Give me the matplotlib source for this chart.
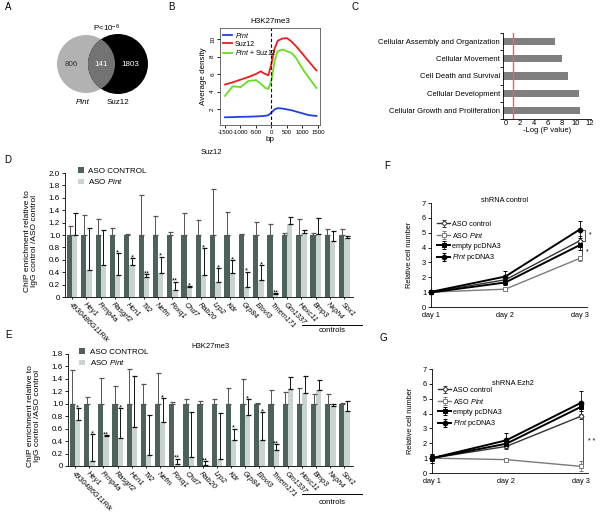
import matplotlib
matplotlib.use("Agg")
import matplotlib.pyplot as plt
from matplotlib.patches import Circle
import numpy as np

plt.rcParams['font.family'] = ['Liberation Sans', 'DejaVu Sans']
plt.rcParams['mathtext.fontset'] = 'custom'
plt.rcParams['mathtext.rm'] = 'Liberation Sans'
plt.rcParams['mathtext.it'] = 'Liberation Sans:italic'
plt.rcParams['axes.unicode_minus'] = False
plt.rcParams['font.size'] = 5
plt.rcParams['axes.linewidth'] = 0.6
plt.rcParams['xtick.major.width'] = 0.6
plt.rcParams['ytick.major.width'] = 0.6
plt.rcParams['xtick.major.size'] = 2
plt.rcParams['ytick.major.size'] = 2
plt.rcParams['xtick.major.pad'] = 1.5
plt.rcParams['ytick.major.pad'] = 1.5

W, H = 600, 513

# ---------------- data ----------------
# A: overlap of target genes
venn_counts = [806, 141, 1803]

# B: H3K27me3 profile around TSS
bp = [-1500, -1250, -1000, -750, -500, -350, -200, -100, 0, 100, 200,
      350, 500, 650, 800, 1000, 1200, 1450]
dens_pint = [1.05, 1.07, 1.1, 1.12, 1.15, 1.18, 1.22, 1.3, 1.6, 1.95, 2.1,
             2.05, 1.95, 1.85, 1.7, 1.5, 1.3, 1.2]
dens_suz12 = [4.8, 5.05, 5.35, 5.65, 6.0, 6.3, 6.0, 5.85, 7.2, 8.9, 9.8,
              10.05, 10.1, 9.7, 9.15, 8.3, 7.45, 6.4]
dens_both = [3.5, 4.6, 4.5, 5.2, 5.3, 4.9, 4.4, 4.3, 5.3, 7.5, 8.6,
             8.8, 8.6, 8.4, 7.8, 6.6, 5.6, 4.4]

# C: functional categories
go_terms = ['Cellular Growth and Proliferation', 'Cellular Development',
            'Cell Death and Survival', 'Cellular Movement',
            'Cellular Assembly and Organization']
go_logp = [11.0, 10.9, 9.3, 8.4, 7.4]
go_cutoff = 1.0

# D / E: ChIP enrichment
genes = ['4930486G11Rik', 'Hey1', 'Frmp4a', 'Rasgrf2', 'Hcn1', 'Tll2', 'Nefm',
         'Foxq1', 'Chd7', 'Rab20', 'Lrp2', 'Kdr', 'Grp84', 'Elovl3', 'Tmem171',
         'Gm1337', 'Hoxc11', 'Bmp3', 'Nxph4', 'Sox1']
suz_ctrl_top = [1.15, 1.32, 1.26, 1.12, 1.01, 1.65, 1.30, 1.05, 1.36, 1.25,
                1.75, 1.37, 1.01, 1.21, 1.18, 1.04, 1.26, 1.04, 1.10, 1.10]
suz_pint = [1.0, 0.43, 0.51, 0.36, 0.52, 0.33, 0.39, 0.12, 0.16, 0.36,
            0.24, 0.39, 0.16, 0.27, 0.05, 1.18, 1.03, 1.01, 0.90, 0.95]
suz_pint_top = [1.36, 1.12, 1.08, 0.71, 0.63, 0.37, 0.65, 0.25, 0.18, 0.79,
                0.46, 0.59, 0.41, 0.51, 0.06, 1.29, 1.08, 1.28, 1.07, 0.99]
suz_stars = ['', '', '', '*', '*', '**', '*', '**', '*', '*',
             '*', '*', '*', '*', '**', '', '', '', '', '']

h3_ctrl_top = [1.54, 1.11, 1.41, 1.28, 1.56, 1.32, 1.50, 1.03, 1.07, 1.04,
               1.08, 1.26, 1.40, 1.02, 1.22, 1.19, 1.25, 1.16, 1.16, 1.02]
h3_pint = [0.74, 0.08, 0.48, 0.45, 0.62, 0.18, 0.70, 0.03, 0.15, 0.02,
           0.12, 0.41, 0.82, 0.42, 0.25, 1.23, 1.18, 1.22, 0.97, 0.88]
h3_pint_top = [0.93, 0.51, 0.50, 0.93, 1.45, 0.82, 1.09, 0.12, 0.86, 0.08,
               0.85, 0.60, 1.08, 0.87, 0.35, 1.43, 1.44, 1.38, 0.99, 1.04]
h3_stars = ['*', '*', '**', '*', '', '', '*', '**', '', '**',
            '', '*', '*', '*', '**', '', '', '', '', '']

# F / G: proliferation
days = ['day 1', 'day 2', 'day 3']
f_aso_ctrl = [1.0, 1.83, 4.45]
f_aso_pint = [1.0, 1.2, 3.27]
f_empty = [0.98, 1.65, 4.16]
f_pint_pc = [1.02, 2.05, 5.21]
f_aso_ctrl_err = [0.1, 0.15, 0.3]
f_aso_pint_err = [0.1, 0.12, 0.15]
f_empty_err = [0.1, 0.15, 0.35]
f_pint_pc_err = [0.12, 0.4, 0.57]

g_aso_ctrl = [1.0, 1.79, 3.81]
g_aso_pint = [1.0, 0.9, 0.45]
g_empty = [1.0, 1.97, 4.44]
g_pint_pc = [1.0, 2.2, 4.71]
g_aso_ctrl_err = [0.2, 0.15, 0.15]
g_aso_pint_err = [0.3, 0.1, 0.33]
g_empty_err = [0.2, 0.2, 0.3]
g_pint_pc_err = [0.3, 0.5, 0.78]

DARK = '#4e625d'
LIGHT = '#c9d3cf'


def px_axes(fig, x0, y0, x1, y1):
    return fig.add_axes([x0 / W, 1 - y1 / H, (x1 - x0) / W, (y1 - y0) / H])


fig = plt.figure(figsize=(W / 100, H / 100), dpi=100)
ov = fig.add_axes([0, 0, 1, 1])
ov.set_xlim(0, W)
ov.set_ylim(H, 0)
ov.axis('off')

for lab, (lx, ly) in zip('ABCDEFG', [(8, 7), (171, 7), (355, 7), (8, 160),
                                      (8, 335), (387, 166), (383, 338)]):
    ov.text(lx, ly, lab, fontsize=7, ha='center', va='center')

# ---- A: venn ----
c_left = Circle((86, 64), 29, color='#b2b2b2', lw=0)
c_right = Circle((118, 64), 30, color='black', lw=0)
ov.add_patch(c_left)
ov.add_patch(c_right)
c_mid = Circle((86, 64), 29, color='#737373', lw=0)
ov.add_patch(c_mid)
c_mid.set_clip_path(c_right)
ov.text(71, 65, str(venn_counts[0]), ha='center', va='center', fontsize=5.8, color='#333333')
ov.text(101, 65, str(venn_counts[1]), ha='center', va='center', fontsize=5.8, color='white')
ov.text(130, 65, str(venn_counts[2]), ha='center', va='center', fontsize=5.8, color='white')
ov.text(107, 28, 'P<10$^{-6}$', ha='center', va='center', fontsize=5.8)
ov.text(83, 103, 'Pint', ha='center', va='center', fontsize=5.8, style='italic')
ov.text(118, 103, 'Suz12', ha='center', va='center', fontsize=5.8)

# ---- B: density profile ----
axb = px_axes(fig, 220, 28, 320, 125)
axb.plot(bp, dens_pint, color='#2040e0', lw=1.3, label='$\\it{Pint}$')
axb.plot(bp, dens_suz12, color='#ee1c1c', lw=1.3, label='Suz12')
axb.plot(bp, dens_both, color='#66e01c', lw=1.3, label='$\\it{Pint}$ + Suz12')
axb.axvline(0, color='black', ls=(0, (3, 2)), lw=0.8)
axb.set_xlim(-1661, 1565)
axb.set_ylim(0.17, 11.26)
axb.set_xticks([-1500, -1000, -500, 0, 500, 1000, 1500])
axb.set_yticks([2, 4, 6, 8, 10])
axb.tick_params(axis='x', labelsize=4.4)
axb.tick_params(axis='y', labelsize=4.6)
plt.setp(axb.get_yticklabels(), rotation=90, va='center')
axb.set_ylabel('Average density', fontsize=5.8, labelpad=2)
axb.set_xlabel('bp', fontsize=5.8, labelpad=0.5)
axb.set_title('H3K27me3', fontsize=5.8, pad=3.5)
for s in axb.spines.values():
    s.set_color('#555555')
axb.legend(loc='upper left', fontsize=5, frameon=False, handlelength=1.3,
           handletextpad=0.4, labelspacing=0.12, borderaxespad=0.2, borderpad=0.2)

# ---- C: categories ----
axc = px_axes(fig, 503, 33, 591, 119)
yc = np.arange(len(go_terms))
axc.barh(yc, go_logp, height=0.42, color='#7f7f7f', left=-0.43)
axc.axvline(go_cutoff, color='#ff5a5a', lw=1.0)
axc.set_xlim(-0.43, 12.2)
axc.set_ylim(-0.5, len(go_terms) - 0.5)
axc.set_yticks(yc)
axc.set_yticklabels(go_terms, fontsize=5.5)
axc.set_yticks(np.arange(-0.5, len(go_terms)), minor=True)
axc.tick_params(axis='y', which='major', length=0, pad=2)
axc.tick_params(axis='y', which='minor', length=2, width=0.6)
axc.set_xticks(range(0, 13, 2))
axc.tick_params(axis='x', length=0, labelsize=5.5, pad=1)
axc.set_xlabel('-Log (P value)', fontsize=5.5, labelpad=0)
axc.spines['top'].set_visible(False)
axc.spines['right'].set_visible(False)


# ---- D / E: ChIP bars ----
def chip_panel(ax, ctrl_top, pint, pint_top, stars, ymax, title, title_xy, leg_anchor):
    n = len(genes)
    x = np.arange(n)
    w = 0.37
    ctrl = np.ones(n)
    ax.bar(x - w / 2, ctrl, w, color=DARK, zorder=2, label='ASO CONTROL')
    ax.bar(x + w / 2, pint, w, color=LIGHT, zorder=2, label='ASO $\\it{Pint}$')
    ax.errorbar(x - w / 2, ctrl, yerr=[np.zeros(n), np.array(ctrl_top) - ctrl],
                fmt='none', ecolor='#555555', elinewidth=0.7, capsize=1.8,
                capthick=0.9, zorder=3)
    ax.errorbar(x + w / 2, pint, yerr=[np.zeros(n), np.array(pint_top) - np.array(pint)],
                fmt='none', ecolor='#111111', elinewidth=0.7, capsize=1.8,
                capthick=0.9, zorder=3)
    for xi, top, s in zip(x, pint_top, stars):
        if s:
            ax.text(xi + w / 2, top + 0.005, s, ha='center', va='center',
                    fontsize=5.5, zorder=4)
    ax.set_xlim(-0.5, 19.6)
    ax.set_ylim(0, ymax)
    ticks = np.round(np.arange(0, ymax + 0.01, 0.2), 1)
    ax.set_yticks(ticks)
    ax.set_yticklabels(['0'] + ['%.1f' % t for t in ticks[1:]], fontsize=5.8)
    ax.set_xticks(x)
    ax.set_xticklabels(genes, rotation=-45, ha='left', va='top',
                       rotation_mode='anchor', fontsize=5.3, style='italic')
    ax.tick_params(axis='x', length=1.5, pad=1.5)
    ax.spines['top'].set_visible(False)
    ax.spines['right'].set_visible(False)
    ax.set_ylabel('ChIP enrichment relative to\nIgG control /ASO control',
                  fontsize=6, linespacing=1.0)
    ov.text(title_xy[0], title_xy[1], title, ha='center', va='center', fontsize=5.5)
    ax.legend(loc='upper left', bbox_to_anchor=leg_anchor, fontsize=5.8,
              frameon=False, handlelength=0.7, handleheight=0.7,
              handletextpad=0.6, labelspacing=0.3, borderaxespad=0, borderpad=0)


axd = px_axes(fig, 65, 173, 353, 297)
chip_panel(axd, suz_ctrl_top, suz_pint, suz_pint_top, suz_stars, 2.0,
           'Suz12', (211, 153), (0.045, 1.045))
axd.yaxis.set_label_coords(-0.095, 0.45)
axe = px_axes(fig, 68, 354, 353, 466)
chip_panel(axe, h3_ctrl_top, h3_pint, h3_pint_top, h3_stars, 1.8,
           'H3K27me3', (210, 347), (0.04, 1.05))
axe.yaxis.set_label_coords(-0.095, 0.45)

for ly, ty in [(325, 331), (494, 502)]:
    ov.plot([302, 362], [ly, ly], color='black', lw=0.7)
    ov.text(332, ty, 'controls', ha='center', va='center', fontsize=5.5)


# ---- F / G: growth curves ----
def growth_panel(ax, series, errs, title, title_pos):
    x = np.arange(len(days))
    styles = [
        dict(color='#333333', marker='D', mfc='white', ms=2.6, lw=1.0, label='ASO control'),
        dict(color='#7a7a7a', marker='s', mfc='white', ms=3.0, lw=1.0, label='ASO $\\it{Pint}$'),
        dict(color='black', marker='s', mfc='black', ms=2.4, lw=1.4, label='empty pcDNA3'),
        dict(color='black', marker='o', mfc='black', ms=3.4, lw=1.4, label='$\\it{Pint}$ pcDNA3'),
    ]
    for ys, es, st in zip(series, errs, styles):
        ax.errorbar(x, ys, yerr=es, capsize=1.2, elinewidth=0.6, capthick=0.6,
                    mew=0.7, clip_on=False, zorder=3, **st)
    ax.set_xlim(0, 2.1)
    ax.set_ylim(0, 7)
    ax.set_yticks(range(8))
    ax.set_xticks(x)
    ax.set_xticklabels(days)
    ax.tick_params(axis='x', length=0, pad=3.5, labelsize=5.3)
    ax.tick_params(axis='y', labelsize=5.3)
    ax.spines['top'].set_visible(False)
    ax.spines['right'].set_visible(False)
    ax.set_ylabel('Relative cell number', fontsize=5.3)
    ax.yaxis.set_label_coords(-0.115, 0.5)
    ax.text(title_pos[0], title_pos[1], title, transform=ax.transAxes,
            ha='center', va='center', fontsize=5.3)
    ax.legend(loc='upper left', bbox_to_anchor=(0.04, 0.83), fontsize=5.2,
              frameon=False, handlelength=1.8, handletextpad=0.3,
              labelspacing=0.4, borderaxespad=0, borderpad=0)


def bracket(ax, xb, y1, y2, label, xt):
    ax.plot([xb - 0.025, xb, xb, xb - 0.025], [y1, y1, y2, y2], color='#333333',
            lw=0.6, clip_on=False)
    ax.text(xt, (y1 + y2) / 2, label, ha='center', va='center', fontsize=5,
            clip_on=False)


axf = px_axes(fig, 431, 203, 587, 307)
growth_panel(axf, [f_aso_ctrl, f_aso_pint, f_empty, f_pint_pc],
             [f_aso_ctrl_err, f_aso_pint_err, f_empty_err, f_pint_pc_err],
             'shRNA control', (0.47, 1.02))
bracket(axf, 2.07, f_pint_pc[2], f_aso_ctrl[2], '*', 2.15)
bracket(axf, 2.03, f_empty[2], f_aso_pint[2], '*', 2.1)

axg = px_axes(fig, 432, 369, 588, 473)
growth_panel(axg, [g_aso_ctrl, g_aso_pint, g_empty, g_pint_pc],
             [g_aso_ctrl_err, g_aso_pint_err, g_empty_err, g_pint_pc_err],
             'shRNA Ezh2', (0.52, 0.865))
bracket(axg, 2.03, g_aso_ctrl[2], g_aso_pint[2], '* *', 2.15)

fig.savefig('out.png', dpi=100)
